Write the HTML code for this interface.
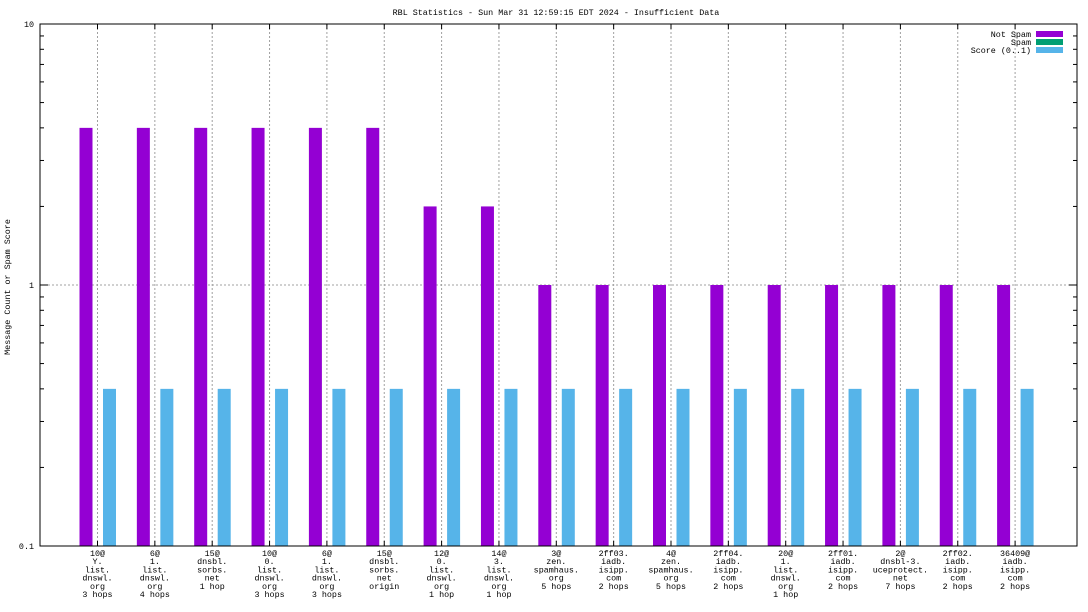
<!DOCTYPE html>
<html><head><meta charset="utf-8"><style>
html,body{margin:0;padding:0;background:#fff}
svg{display:block}
text{font-family:"Liberation Mono","DejaVu Sans Mono",monospace;font-size:8.4px;fill:#000}
</style></head><body>
<svg id="chart" width="1088" height="612" viewBox="0 0 1088 612">
<text x="556" y="15" text-anchor="middle">RBL Statistics - Sun Mar 31 12:59:15 EDT 2024 - Insufficient Data</text>
<text transform="translate(10,287) rotate(-90)" text-anchor="middle">Message Count or Spam Score</text>
<g id="grid"></g><g id="bars"></g><g id="axes"></g><g id="xlabels"></g>
<g>
<g><text x="1031" y="37" text-anchor="end">Not Spam</text><rect x="1036" y="31" width="27" height="6" fill="#9400d3"/></g>
<g><text x="1031" y="45" text-anchor="end">Spam</text><rect x="1036" y="39" width="27" height="6" fill="#009e73"/></g>
<g><text x="1031" y="53" text-anchor="end">Score (0..1)</text><rect x="1036" y="47" width="27" height="6" fill="#56b4e9"/></g>
</g>
</svg>
<script>
const categories=[
["10@","Y.","list.","dnswl.","org","3 hops"],["6@","1.","list.","dnswl.","org","4 hops"],["15@","dnsbl.","sorbs.","net","1 hop"],
["10@","0.","list.","dnswl.","org","3 hops"],["6@","1.","list.","dnswl.","org","3 hops"],["15@","dnsbl.","sorbs.","net","origin"],
["12@","0.","list.","dnswl.","org","1 hop"],["14@","3.","list.","dnswl.","org","1 hop"],["3@","zen.","spamhaus.","org","5 hops"],
["2ff03.","iadb.","isipp.","com","2 hops"],["4@","zen.","spamhaus.","org","5 hops"],["2ff04.","iadb.","isipp.","com","2 hops"],
["20@","1.","list.","dnswl.","org","1 hop"],["2ff01.","iadb.","isipp.","com","2 hops"],["2@","dnsbl-3.","uceprotect.","net","7 hops"],
["2ff02.","iadb.","isipp.","com","2 hops"],["36409@","iadb.","isipp.","com","2 hops"]];
const notSpam=[4,4,4,4,4,4,2,2,1,1,1,1,1,1,1,1,1];
const spam=[0,0,0,0,0,0,0,0,0,0,0,0,0,0,0,0,0];
const score=[0.4,0.4,0.4,0.4,0.4,0.4,0.4,0.4,0.4,0.4,0.4,0.4,0.4,0.4,0.4,0.4,0.4];
const yTicks=[0.1,1,10];
const yTickLabels=["0.1","1","10"];
const NS="http://www.w3.org/2000/svg";
const L=40,R=1077,T=24,B=546;
function y(v){return B-(Math.log10(v)+1)/2*(B-T);}
function x(i){return 97.5+57.35*i;}
function mk(tag,attrs,parent){const e=document.createElementNS(NS,tag);for(const k in attrs)e.setAttribute(k,attrs[k]);parent.appendChild(e);return e;}
const grid=document.getElementById('grid'),bars=document.getElementById('bars'),axes=document.getElementById('axes'),xl=document.getElementById('xlabels');
categories.forEach((c,i)=>{
 const g=mk('line',{x1:x(i),x2:x(i),y1:T,y2:B,stroke:'#a0a0a0','stroke-dasharray':'2,2'},grid);
 
 
 if(notSpam[i]>0){const r=mk('rect',{x:x(i)-18,y:y(notSpam[i]),width:13,height:B-y(notSpam[i]),fill:'#9400d3'},bars);
 
 }
 if(spam[i]>0){const r=mk('rect',{x:x(i)-6,y:y(spam[i]),width:12,height:B-y(spam[i]),fill:'#009e73'},bars);
 
 }
 if(score[i]>0){const r=mk('rect',{x:x(i)+5.5,y:y(score[i]),width:13,height:B-y(score[i]),fill:'#56b4e9'},bars);
 
 }
 mk('line',{x1:x(i),x2:x(i),y1:B,y2:B-5,stroke:'#000'},axes);
 mk('line',{x1:x(i),x2:x(i),y1:T,y2:T+5,stroke:'#000'},axes);
 const t=mk('text',{x:x(i),y:B+10,'text-anchor':'middle'},xl);
 
 
 c.forEach((s,j)=>{const ts=mk('tspan',{x:x(i),dy:j?8.2:0},t);ts.textContent=s;});
});
yTicks.forEach((v,k)=>{
 if(v>0.1&&v<10){const g=mk('line',{x1:L,x2:R,y1:y(v),y2:y(v),stroke:'#a0a0a0','stroke-dasharray':'2,2'},grid);
 
 }
 const t=mk('text',{x:34,y:y(v)+3,'text-anchor':'end'},axes);t.textContent=yTickLabels[k];
 
 
 mk('line',{x1:L,x2:L+8,y1:y(v),y2:y(v),stroke:'#000'},axes);
 mk('line',{x1:R,x2:R-8,y1:y(v),y2:y(v),stroke:'#000'},axes);
 if(k<yTicks.length-1){for(let m=2;m<10;m++){const yy=y(v*m);
  mk('line',{x1:L,x2:L+4,y1:yy,y2:yy,stroke:'#000'},axes);
  mk('line',{x1:R,x2:R-4,y1:yy,y2:yy,stroke:'#000'},axes);}}
});
const fr=mk('rect',{x:L,y:T,width:R-L,height:B-T,fill:'none',stroke:'#000'},axes);


</script>
</body></html>
